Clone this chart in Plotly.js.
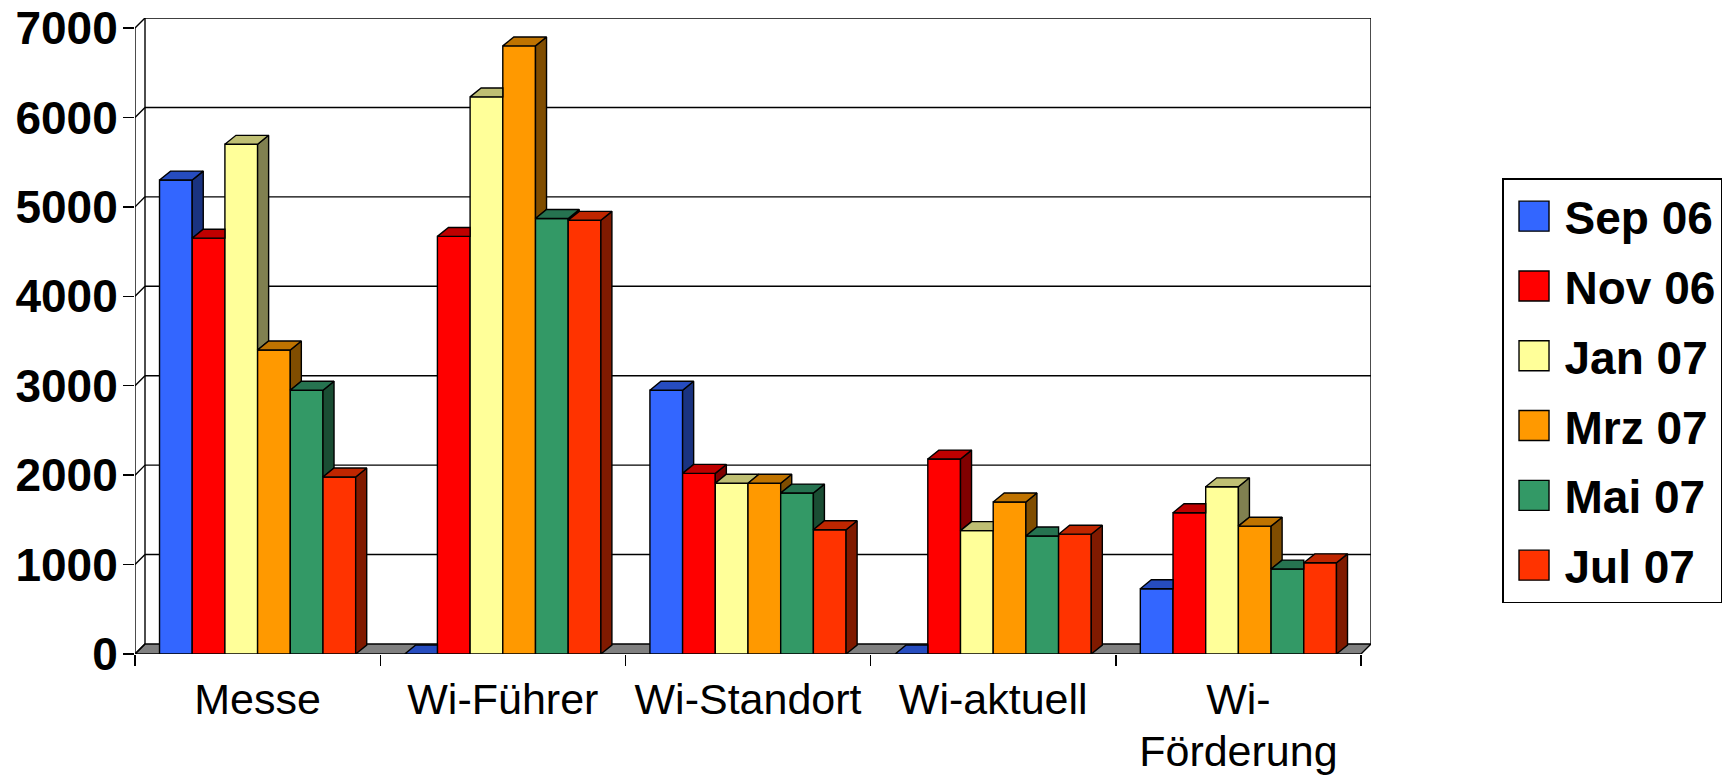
<!DOCTYPE html>
<html><head><meta charset="utf-8">
<script src="https://cdn.plot.ly/plotly-3.0.1.min.js"></script>
<style>html,body{margin:0;padding:0;background:#fff}#chart{width:1728px;height:777px}</style>
</head><body><div id="chart"></div>
<script>
// ---- data ----
const categories = ['Messe', 'Wi-Führer', 'Wi-Standort', 'Wi-aktuell', 'Wi-Förderung'];
const tickLabels = ['Messe', 'Wi-Führer', 'Wi-Standort', 'Wi-aktuell', 'Wi-<br>Förderung'];
const seriesNames = ['Sep 06', 'Nov 06', 'Jan 07', 'Mrz 07', 'Mai 07', 'Jul 07'];
const sep06 = [5300, 0, 2950, 0, 730];
const nov06 = [4650, 4670, 2020, 2180, 1580];
const jan07 = [5700, 6230, 1910, 1380, 1870];
const mrz07 = [3400, 6800, 1910, 1700, 1430];
const mai07 = [2950, 4870, 1800, 1320, 950];
const jul07 = [1980, 4850, 1390, 1340, 1020];
const yTicks = [0, 1000, 2000, 3000, 4000, 5000, 6000, 7000];

// ---- styles ----
const frontColors = ['#3366FF', '#FF0000', '#FFFF99', '#FF9900', '#339966', '#FF3300'];
const topColors   = ['#264CBF', '#BF0000', '#BFBF73', '#BF7300', '#267350', '#BF2600'];
const sideColors  = ['#1A3380', '#800000', '#808050', '#804D00', '#1A4D33', '#801A00'];
const FONT = 'Liberation Sans, Arial, sans-serif';
const LW = 1.4;

const seriesValues = [sep06, nov06, jan07, mrz07, mai07, jul07];
const nCat = categories.length;
const nSer = seriesValues.length;
const yMax = yTicks[yTicks.length - 1];

// pseudo-3D depth, expressed in axis units
const WALL_DX = 0.0408, WALL_DY = 112;   // wall / floor depth
const BAR_DX = 0.045,  BAR_DY = 100;     // bar depth
const BARGAP = 0.2;
const groupW = 1 - BARGAP;
const barW = groupW / nSer;

const traces = [];
// front faces: real grouped bars
seriesValues.forEach((vals, s) => {
  traces.push({
    type: 'bar', name: seriesNames[s], legendgroup: seriesNames[s], x: categories, y: vals,
    marker: {color: frontColors[s], line: {color: '#000', width: LW}},
    hoverinfo: 'x+y+name'
  });
});
// side + top faces, drawn on an overlaid linear x axis with the same scale
seriesValues.forEach((vals, s) => {
  const sx = [], sy = [], tx = [], ty = [];
  vals.forEach((v, i) => {
    const left = i - groupW / 2 + s * barW, right = left + barW;
    const last = s === nSer - 1;
    const vn = last ? 0 : seriesValues[s + 1][i];
    // side face (visible part above neighbour on the right)
    if (last || v > vn) {
      const b = last ? 0 : vn;
      sx.push(right, right + BAR_DX, right + BAR_DX, right, right, null);
      sy.push(b, b + BAR_DY, v + BAR_DY, v, b, null);
    }
    // top face
    if (!last && vn > v) {
      tx.push(left, left + BAR_DX, right, right, left, null);
      ty.push(v, v + BAR_DY, v + BAR_DY, v, v, null);
    } else {
      tx.push(left, left + BAR_DX, right + BAR_DX, right, left, null);
      ty.push(v, v + BAR_DY, v + BAR_DY, v, v, null);
    }
  });
  traces.push({type: 'scatter', mode: 'lines', x: sx, y: sy, xaxis: 'x2', fill: 'toself',
    fillcolor: sideColors[s], line: {color: '#000', width: LW}, showlegend: false, hoverinfo: 'skip'});
  traces.push({type: 'scatter', mode: 'lines', x: tx, y: ty, xaxis: 'x2', fill: 'toself',
    fillcolor: topColors[s], line: {color: '#000', width: LW}, showlegend: false, hoverinfo: 'skip'});
});

const x0 = -0.5, x1 = nCat - 0.5;
const xRange = [x0, x1 + WALL_DX];
const shapes = [];
const ln = {color: '#000', width: LW};
// floor
shapes.push({type: 'path', xref: 'x', yref: 'y', layer: 'below',
  path: `M${x0},0 L${x0 + WALL_DX},${WALL_DY} L${x1 + WALL_DX},${WALL_DY} L${x1},0 Z`,
  fillcolor: '#808080', line: ln});
// back wall gridlines and side-wall connectors
yTicks.forEach(t => {
  if (t > 0) shapes.push({type: 'line', xref: 'x', yref: 'y', layer: 'below',
    x0: x0 + WALL_DX, x1: x1 + WALL_DX, y0: t + WALL_DY, y1: t + WALL_DY, line: ln});
  shapes.push({type: 'line', xref: 'x', yref: 'y', layer: 'below',
    x0: x0, x1: x0 + WALL_DX, y0: t, y1: t + WALL_DY, line: ln});
});
shapes.push({type: 'line', xref: 'x', yref: 'y', layer: 'below',
  x0: x0 + WALL_DX, x1: x0 + WALL_DX, y0: WALL_DY, y1: yMax + WALL_DY, line: ln});
shapes.push({type: 'line', xref: 'x', yref: 'y', layer: 'below',
  x0: x1 + WALL_DX, x1: x1 + WALL_DX, y0: WALL_DY, y1: yMax + WALL_DY, line: ln});
// front axis line
shapes.push({type: 'line', xref: 'x', yref: 'y', layer: 'below',
  x0: x0, x1: x0, y0: 0, y1: yMax, line: ln});

const layout = {
  width: 1728, height: 777,
  margin: {l: 135, r: 357, t: 18, b: 123, autoexpand: false},
  paper_bgcolor: '#fff', plot_bgcolor: 'rgba(0,0,0,0)',
  barmode: 'group', bargap: BARGAP, bargroupgap: 0,
  showlegend: true,
  font: {family: FONT, color: '#000'},
  xaxis: {
    type: 'category', range: xRange, tickson: 'boundaries',
    tickmode: 'array', tickvals: categories, ticktext: tickLabels,
    ticks: 'outside', ticklen: 11, tickwidth: LW, tickcolor: '#000',
    tickangle: 0, showline: false, showgrid: false, zeroline: false,
    tickfont: {family: FONT, size: 43, color: '#000'}, ticklabelstandoff: 16
  },
  xaxis2: {type: 'linear', overlaying: 'x', range: xRange, visible: false},
  yaxis: {
    range: [0, yMax + WALL_DY], tickmode: 'array', tickvals: yTicks,
    ticks: 'outside', ticklen: 11, tickwidth: LW, tickcolor: '#000',
    showline: false, showgrid: false, zeroline: false,
    tickfont: {family: FONT, size: 46, color: '#000', weight: 'bold'}, ticklabelstandoff: -4
  },
  legend: {
    x: 1.106, y: 0.748, xanchor: 'left', yanchor: 'top',
    bordercolor: '#000', borderwidth: 1.5, bgcolor: '#fff',
    font: {family: FONT, size: 46, color: '#000', weight: 'bold'},
    traceorder: 'grouped', itemwidth: 51, tracegroupgap: 7
  },
  shapes: shapes
};

const gd = document.getElementById('chart');
function postFix() {
  // larger legend swatches, as in the reference
  gd.querySelectorAll('.legend .legendpoints path').forEach(p => p.setAttribute('d', 'M15,15H-15V-15H15Z'));
  // slightly tighter line spacing for the two-line category label
  gd.querySelectorAll('.xtick text tspan.line').forEach(t => {
    const dy = parseFloat(t.getAttribute('dy'));
    if (dy > 0) t.setAttribute('dy', '1.22em');
  });
}
Plotly.newPlot(gd, traces, layout, {displayModeBar: false, staticPlot: true}).then(() => {
  postFix();
  gd.on('plotly_afterplot', postFix);
});
</script>
</body></html>
